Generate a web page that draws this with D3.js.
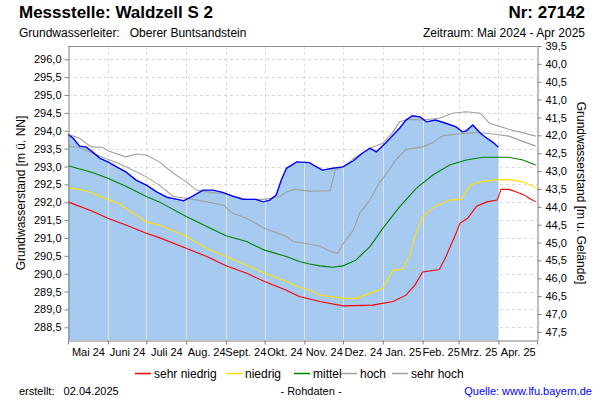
<!DOCTYPE html>
<html><head><meta charset="utf-8">
<script src="https://cdn.jsdelivr.net/npm/d3@7"></script>
<style>
body{margin:0;background:#fff}
svg{display:block;font-family:"Liberation Sans",Arial,sans-serif}
</style>
</head><body>
<svg id="chart" width="600" height="400"></svg>
<script>
// ---------- data ----------
const monthStarts = ["2024-05-01","2024-06-01","2024-07-01","2024-08-01","2024-09-01","2024-10-01","2024-11-01","2024-12-01","2025-01-01","2025-02-01","2025-03-01","2025-04-01","2025-05-01"];
const monthLabels = ["Mai 24","Juni 24","Juli 24","Aug. 24","Sept. 24","Okt. 24","Nov. 24","Dez. 24","Jan. 25","Feb. 25","Mrz. 25","Apr. 25"];
const leftTicks = [288.5,289.0,289.5,290.0,290.5,291.0,291.5,292.0,292.5,293.0,293.5,294.0,294.5,295.0,295.5,296.0];
const rightTicks = [39.5,40.0,40.5,41.0,41.5,42.0,42.5,43.0,43.5,44.0,44.5,45.0,45.5,46.0,46.5,47.0,47.5];
const legendNames = ["sehr niedrig","niedrig","mittel","hoch","sehr hoch"];

const measured = [["2024-05-01",293.90],["2024-05-05",293.79],["2024-05-10",293.57],["2024-05-15",293.55],["2024-05-20",293.41],["2024-05-26",293.23],["2024-06-01",293.13],["2024-06-10",292.95],["2024-06-15",292.85],["2024-06-23",292.62],["2024-07-01",292.48],["2024-07-09",292.29],["2024-07-17",292.14],["2024-07-25",292.08],["2024-07-30",292.04],["2024-08-06",292.17],["2024-08-14",292.34],["2024-08-22",292.34],["2024-08-30",292.27],["2024-09-06",292.17],["2024-09-14",292.08],["2024-09-24",292.08],["2024-09-30",292.01],["2024-10-05",292.06],["2024-10-10",292.20],["2024-10-14",292.62],["2024-10-18",292.95],["2024-10-26",293.13],["2024-11-05",293.11],["2024-11-08",293.04],["2024-11-15",292.90],["2024-11-23",292.95],["2024-12-01",292.99],["2024-12-09",293.16],["2024-12-16",293.37],["2024-12-22",293.51],["2024-12-27",293.41],["2025-01-03",293.65],["2025-01-09",293.88],["2025-01-14",294.07],["2025-01-19",294.30],["2025-01-24",294.42],["2025-01-30",294.39],["2025-02-04",294.25],["2025-02-11",294.30],["2025-02-19",294.21],["2025-02-27",294.11],["2025-03-04",293.97],["2025-03-07",294.00],["2025-03-12",294.16],["2025-03-18",293.93],["2025-03-23",293.79],["2025-03-28",293.67],["2025-04-01",293.54]];

const sehrNiedrig = [["2024-05-01",292.01],["2024-05-20",291.75],["2024-06-01",291.55],["2024-06-15",291.36],["2024-07-01",291.13],["2024-07-11",291.01],["2024-08-01",290.71],["2024-08-17",290.48],["2024-09-01",290.22],["2024-09-17",290.01],["2024-10-01",289.78],["2024-10-18",289.54],["2024-10-28",289.36],["2024-11-05",289.29],["2024-11-13",289.22],["2024-12-01",289.10],["2024-12-24",289.12],["2025-01-09",289.22],["2025-01-19",289.40],["2025-01-26",289.68],["2025-02-01",290.05],["2025-02-14",290.12],["2025-02-19",290.47],["2025-02-27",291.13],["2025-03-02",291.41],["2025-03-08",291.55],["2025-03-15",291.89],["2025-03-23",292.01],["2025-03-31",292.06],["2025-04-03",292.36],["2025-04-09",292.36],["2025-04-14",292.30],["2025-04-20",292.22],["2025-04-25",292.11],["2025-04-30",292.01]];

const niedrig = [["2024-05-01",292.41],["2024-05-15",292.32],["2024-06-01",292.08],["2024-06-10",291.95],["2024-07-01",291.45],["2024-07-11",291.36],["2024-08-01",291.04],["2024-08-17",290.71],["2024-09-01",290.48],["2024-09-17",290.24],["2024-10-01",290.01],["2024-10-18",289.78],["2024-10-28",289.62],["2024-11-05",289.54],["2024-11-13",289.40],["2024-12-01",289.31],["2024-12-11",289.31],["2024-12-22",289.45],["2025-01-01",289.59],["2025-01-09",290.10],["2025-01-16",290.12],["2025-01-22",290.52],["2025-01-26",291.04],["2025-02-01",291.60],["2025-02-11",291.89],["2025-02-22",292.06],["2025-03-03",292.08],["2025-03-10",292.48],["2025-03-18",292.57],["2025-03-28",292.62],["2025-04-09",292.64],["2025-04-20",292.57],["2025-04-30",292.41]];

const mittel = [["2024-05-01",293.02],["2024-05-20",292.83],["2024-06-01",292.67],["2024-06-15",292.45],["2024-07-01",292.16],["2024-07-11",292.01],["2024-08-01",291.60],["2024-08-17",291.32],["2024-09-01",291.06],["2024-09-17",290.90],["2024-10-01",290.66],["2024-10-18",290.48],["2024-10-28",290.34],["2024-11-05",290.27],["2024-11-13",290.22],["2024-11-23",290.18],["2024-12-01",290.22],["2024-12-11",290.38],["2024-12-22",290.76],["2025-01-01",291.27],["2025-01-14",291.87],["2025-01-27",292.39],["2025-02-09",292.76],["2025-02-22",293.04],["2025-03-07",293.18],["2025-03-20",293.26],["2025-04-09",293.26],["2025-04-20",293.18],["2025-04-30",293.04]];

const hoch = [["2024-05-01",293.57],["2024-05-10",293.53],["2024-05-20",293.37],["2024-06-01",293.20],["2024-06-15",293.00],["2024-07-01",292.71],["2024-07-11",292.48],["2024-07-22",292.16],["2024-08-01",292.11],["2024-08-17",292.01],["2024-08-30",291.92],["2024-09-06",291.69],["2024-09-17",291.55],["2024-10-01",291.27],["2024-10-18",291.04],["2024-10-23",290.90],["2024-11-05",290.83],["2024-11-13",290.77],["2024-11-21",290.62],["2024-11-27",290.57],["2024-12-01",290.83],["2024-12-09",291.22],["2024-12-14",291.69],["2024-12-22",292.06],["2024-12-29",292.53],["2025-01-03",292.76],["2025-01-11",293.18],["2025-01-19",293.48],["2025-02-01",293.55],["2025-02-09",293.67],["2025-02-16",293.85],["2025-02-27",293.91],["2025-03-15",293.95],["2025-03-28",293.91],["2025-04-09",293.85],["2025-04-30",293.57]];

const sehrHoch = [["2024-05-01",293.90],["2024-05-10",293.79],["2024-05-19",293.55],["2024-05-28",293.54],["2024-06-01",293.44],["2024-06-15",293.27],["2024-06-23",293.35],["2024-07-01",293.32],["2024-07-11",293.13],["2024-07-22",292.81],["2024-08-01",292.57],["2024-08-09",292.34],["2024-08-17",292.29],["2024-09-01",292.23],["2024-09-17",292.08],["2024-10-01",292.08],["2024-10-13",292.16],["2024-10-18",292.29],["2024-10-24",292.36],["2024-11-05",292.31],["2024-11-21",292.32],["2024-11-25",292.90],["2024-12-01",292.99],["2024-12-11",293.27],["2024-12-22",293.51],["2025-01-01",293.65],["2025-01-09",293.97],["2025-01-14",294.25],["2025-01-22",294.32],["2025-02-01",294.30],["2025-02-14",294.35],["2025-02-24",294.49],["2025-03-07",294.53],["2025-03-18",294.49],["2025-03-25",294.21],["2025-04-09",294.04],["2025-04-30",293.85]];

// ---------- layout ----------
const svg = d3.select("#chart");
const L = 68, R = 537, T = 46, B = 340;
const ground = 335.872;
const parse = d3.utcParse("%Y-%m-%d");
const x = d3.scaleUtc().domain([parse(monthStarts[0]), parse(monthStarts[12])]).range([L, R]);
const yL = d3.scaleLinear().domain([288.145, 296.372]).range([B, T]);
const yR = d3.scaleLinear().domain([ground - 288.145, ground - 296.372]).range([B, T]);
const fmt = v => d3.format(".1f")(v).replace(".", ",");
const toPts = arr => arr.map(d => ({date: parse(d[0]), v: d[1]}));

// grid (dashed)
const grid = svg.append("g");
grid.selectAll("line.h").data(leftTicks).join("line")
  .attr("x1", L).attr("x2", R).attr("y1", d => Math.round(yL(d)) + 0.5).attr("y2", d => Math.round(yL(d)) + 0.5)
  .attr("stroke", "#dadada").attr("stroke-dasharray", "3,3");
grid.selectAll("line.v").data(monthStarts.slice(1, 12)).join("line")
  .attr("x1", d => Math.round(x(parse(d))) + 0.5).attr("x2", d => Math.round(x(parse(d))) + 0.5)
  .attr("y1", T).attr("y2", B)
  .attr("stroke", "#dadada").attr("stroke-dasharray", "3,3");

// measured area
const mPts = toPts(measured);
const area = d3.area().x(d => x(d.date)).y0(B).y1(d => yL(d.v));
svg.append("path").datum(mPts).attr("d", area).attr("fill", "#a6caf0");
svg.append("clipPath").attr("id", "areaClip").append("path").datum(mPts).attr("d", area);
svg.append("g").attr("clip-path", "url(#areaClip)")
  .selectAll("line").data(monthStarts.slice(1, 12)).join("line")
  .attr("x1", d => Math.round(x(parse(d))) + 0.5).attr("x2", d => Math.round(x(parse(d))) + 0.5)
  .attr("y1", T).attr("y2", B).attr("stroke", "#e4e4e4").attr("stroke-width", 1);

// reference lines
const line = d3.line().x(d => x(d.date)).y(d => yL(d.v));
const series = [
  {data: sehrHoch, color: "#a0a0a0"},
  {data: hoch, color: "#a0a0a0"},
  {data: mittel, color: "#008000"},
  {data: niedrig, color: "#ffe000"},
  {data: sehrNiedrig, color: "#ff0000"}
];
series.forEach(s => {
  svg.append("path").datum(toPts(s.data)).attr("d", line)
    .attr("fill", "none").attr("stroke", s.color).attr("stroke-width", 1.1);
});
svg.append("path").datum(mPts).attr("d", line)
  .attr("fill", "none").attr("stroke", "#0000ff").attr("stroke-width", 1.4);

// frame top
svg.append("line").attr("x1", L).attr("x2", R).attr("y1", T + 0.5).attr("y2", T + 0.5).attr("stroke", "#909090");

// axes
function styleAxis(g) {
  g.selectAll(".domain").attr("stroke", "#808080");
  g.selectAll(".tick line").attr("stroke", "#808080");
  g.selectAll("text").attr("fill", "#000").style("font-size", "11px").style("font-family", '"Liberation Sans",Arial,sans-serif');
}
const gl = svg.append("g").attr("transform", `translate(${L + 0.5},0)`)
  .call(d3.axisLeft(yL).tickValues(leftTicks).tickFormat(fmt).tickSize(4).tickSizeOuter(0).tickPadding(3));
styleAxis(gl);
const gr = svg.append("g").attr("transform", `translate(${R + 0.5},0)`)
  .call(d3.axisRight(yR).tickValues(rightTicks).tickFormat(fmt).tickSize(4).tickSizeOuter(0).tickPadding(4));
styleAxis(gr);
const gb = svg.append("g").attr("transform", `translate(0,${B + 0.5})`)
  .call(d3.axisBottom(x).tickValues(monthStarts.map(parse)).tickFormat("").tickSize(4).tickSizeOuter(0));
styleAxis(gb);
const mids = monthStarts.slice(0, 12).map((d, i) => new Date((parse(d).getTime() + parse(monthStarts[i + 1]).getTime()) / 2));
const gm = svg.append("g").attr("transform", `translate(0,${B + 0.5})`)
  .call(d3.axisBottom(x).tickValues(mids).tickFormat((d, i) => monthLabels[i]).tickSize(0).tickPadding(8));
gm.select(".domain").remove();
styleAxis(gm);

// axis titles
svg.append("text").attr("transform", "translate(25,193) rotate(-90)")
  .attr("text-anchor", "middle").style("font-size", "12px").text("Grundwasserstand [m ü. NN]");
svg.append("text").attr("transform", "translate(577,193) rotate(90)")
  .attr("text-anchor", "middle").style("font-size", "12px").text("Grundwasserstand [m u. Gelände]");

// title block
svg.append("text").attr("x", 19).attr("y", 18).style("font-size", "17px").style("font-weight", "bold").text("Messstelle: Waldzell S 2");
svg.append("text").attr("x", 585).attr("y", 18).attr("text-anchor", "end").style("font-size", "17px").style("font-weight", "bold").text("Nr: 27142");
svg.append("text").attr("x", 19).attr("y", 37).style("font-size", "12px").attr("xml:space", "preserve").text("Grundwasserleiter:   Oberer Buntsandstein");
svg.append("text").attr("x", 585).attr("y", 37).attr("text-anchor", "end").style("font-size", "12px").text("Zeitraum: Mai 2024 - Apr 2025");

// legend
const legendColors = ["#ff0000", "#ffe000", "#008000", "#a0a0a0", "#a0a0a0"];
const legendX = [135, 226, 294, 341, 392];
const lg = svg.append("g");
legendNames.forEach((n, i) => {
  lg.append("line").attr("x1", legendX[i]).attr("x2", legendX[i] + 16).attr("y1", 373.5).attr("y2", 373.5)
    .attr("stroke", legendColors[i]).attr("stroke-width", 1.5);
  lg.append("text").attr("x", legendX[i] + 19).attr("y", 378).style("font-size", "12px").text(n);
});

// footer
svg.append("text").attr("x", 19).attr("y", 395).style("font-size", "11px").attr("xml:space", "preserve").text("erstellt:   02.04.2025");
svg.append("text").attr("x", 311).attr("y", 395).attr("text-anchor", "middle").style("font-size", "11px").text("- Rohdaten -");
svg.append("text").attr("x", 592).attr("y", 395).attr("text-anchor", "end").style("font-size", "11px").attr("fill", "#0000ff").text("Quelle: www.lfu.bayern.de");
</script>
</body></html>
